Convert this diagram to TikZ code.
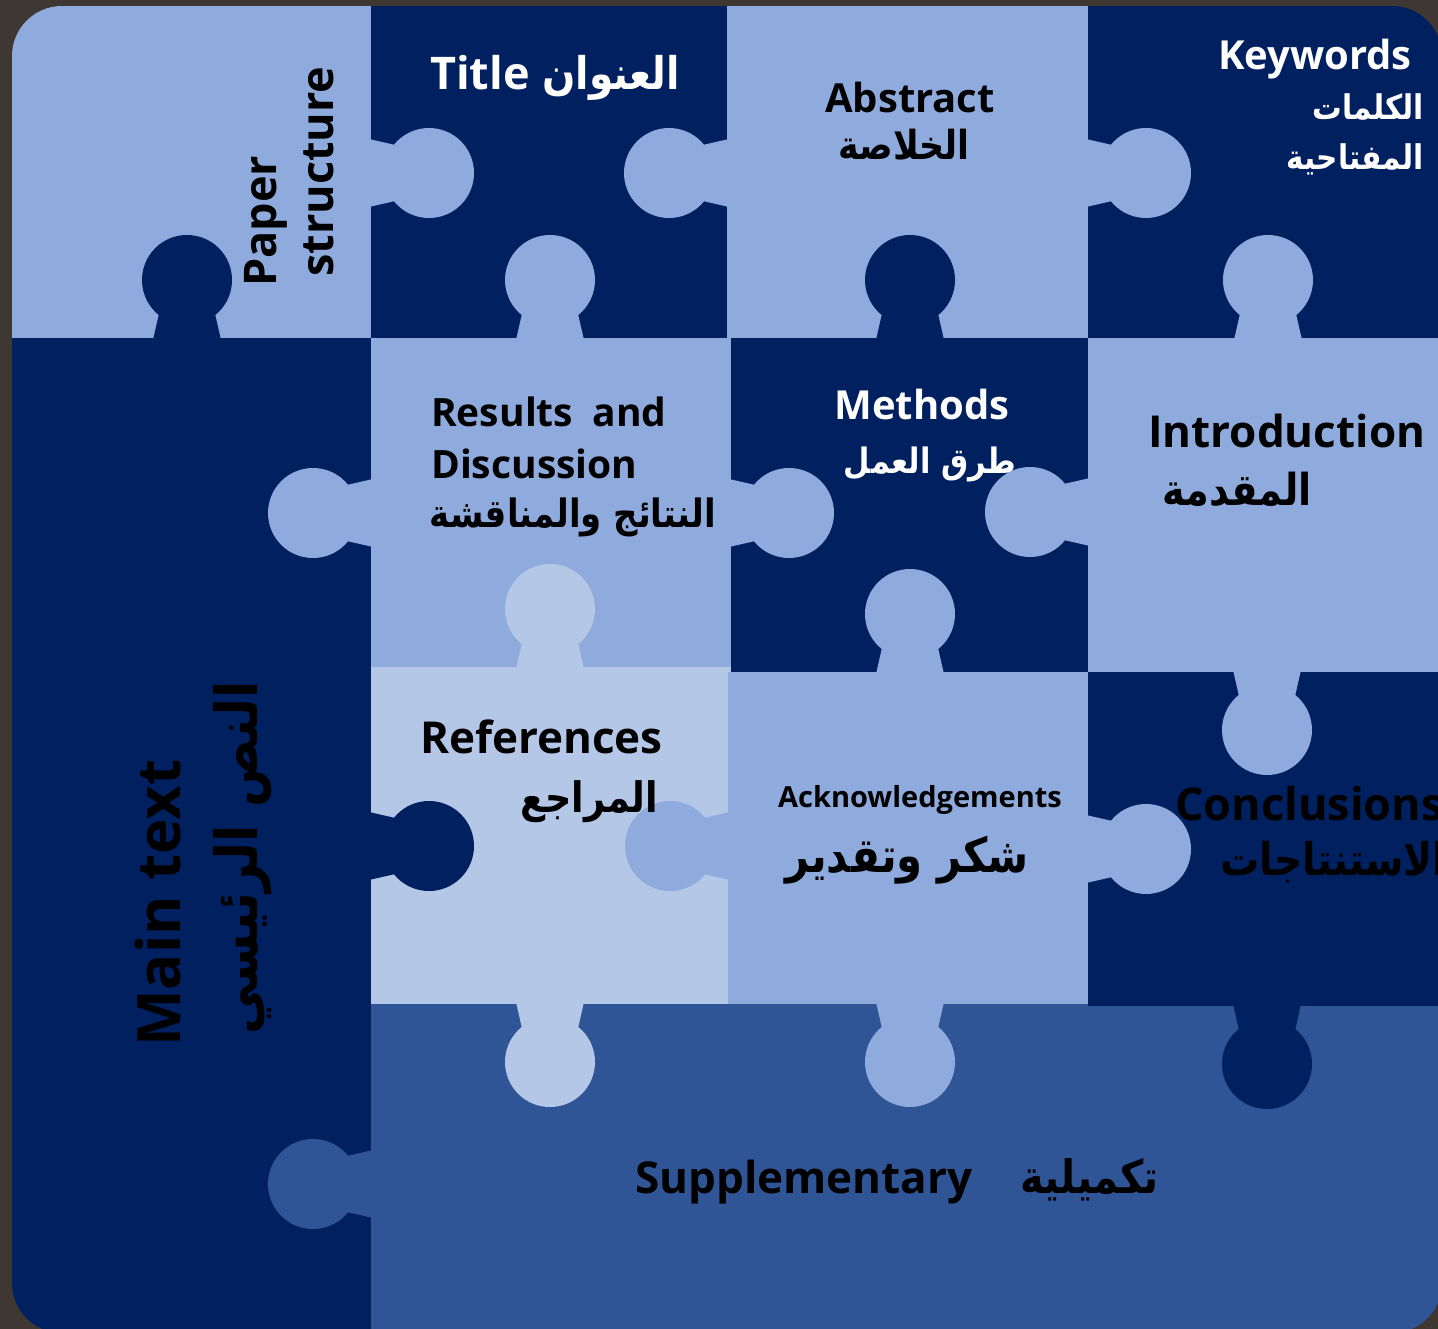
\documentclass[tikz,border=0pt]{standalone}
\usepackage{fontspec}
\setmainfont{Open Sans}
\newfontfamily\arabicfont[Script=Arabic,FakeStretch=0.87]{DejaVu Sans}
\TeXXeTstate=1
\definecolor{navy}{HTML}{002060}
\definecolor{lblue}{HTML}{8FAADC}
\definecolor{llblue}{HTML}{B4C7E7}
\definecolor{mblue}{HTML}{2F5597}
\definecolor{bgdark}{HTML}{3E3732}
\newcommand\ar[1]{{\arabicfont\beginR #1\endR}}
\newcommand\fsz[1]{\fontsize{#1}{#1}\selectfont}
% knob: colour, edge x, edge y, direction angle
\newcommand\knob[4]{%
  \begin{scope}[shift={(#2,#3)},rotate=#4]
    \fill[#1] (-2,-34) -- (40,-24.4) -- (40,24.4) -- (-2,34) -- cycle;
    \fill[#1] (58,0) circle[radius=45pt];
  \end{scope}}
\begin{document}
\begin{tikzpicture}[x=1pt,y=-1pt,
  txt/.style={inner sep=0pt,font=\bfseries}]
\useasboundingbox (0,0) rectangle (1438,1329);
\fill[bgdark] (0,0) rectangle (1438,1329);
\begin{scope}
  \clip[rounded corners=50pt] (12,6) rectangle (1442,1333);
  % pieces
  \fill[lblue]  (12,6) rectangle (371,338);     % paper structure
  \fill[navy]   (371,6) rectangle (727,338);    % title
  \fill[lblue]  (727,6) rectangle (1088,338);   % abstract
  \fill[navy]   (1088,6) rectangle (1442,338);  % keywords
  \fill[navy]   (12,338) rectangle (371,1333);  % main text
  \fill[lblue]  (371,338) rectangle (731,667);  % results
  \fill[navy]   (731,338) rectangle (1088,672); % methods
  \fill[lblue]  (1088,338) rectangle (1442,672);% introduction
  \fill[llblue] (371,667) rectangle (731,1004); % references
  \fill[lblue]  (728,672) rectangle (1088,1004);% acknowledgements
  \fill[mblue]  (371,1004) rectangle (1442,1333);% supplementary
  \fill[navy]   (1088,672) rectangle (1442,1006);% conclusions
  % knobs
  \knob{navy}{187}{338}{90}
  \knob{lblue}{371}{173}{0}
  \knob{lblue}{727}{173}{180}
  \knob{lblue}{550}{338}{90}
  \knob{lblue}{1088}{173}{0}
  \knob{navy}{910}{338}{90}
  \knob{lblue}{1268}{338}{90}
  \knob{lblue}{371}{513}{180}
  \knob{lblue}{731}{513}{0}
  \knob{llblue}{550}{667}{90}
  \knob{lblue}{1088}{512}{180}
  \knob{lblue}{910}{672}{90}
  \knob{lblue}{1267}{672}{-90}
  \knob{navy}{371}{846}{0}
  \knob{lblue}{728}{846}{180}
  \knob{lblue}{1088}{849}{0}
  \knob{llblue}{550}{1004}{-90}
  \knob{lblue}{910}{1004}{-90}
  \knob{navy}{1267}{1006}{-90}
  \knob{mblue}{371}{1184}{180}
\end{scope}
% texts
\node[txt,rotate=90,anchor=base west] (paper) at (276,287) {\fsz{45}Paper};
\node[txt,rotate=90,anchor=base west] (struct) at (333,277) {\fsz{45}structure};
\node[txt,rotate=90,anchor=base west] (main) at (180,1047) {\fsz{60}Main text};
\node[txt,rotate=90,anchor=base] (mainar) at (257,858) {\fsz{58}\ar{النص الرئيسي}};

\node[txt,text=white,anchor=base west] (title) at (430,90) {\fsz{45}Title};
\node[txt,text=white,anchor=base east] (titlear) at (680,90) {\fsz{45}\ar{العنوان}};

\node[txt,anchor=base] (abs) at (910,113) {\fsz{40}Abstract};
\node[txt,anchor=base] (absar) at (904,160) {\fsz{40}\ar{الخلاصة}};

\node[txt,text=white,anchor=base east] (kw) at (1412,70) {\fsz{40}Keywords};
\node[txt,text=white,anchor=base east] (kwar1) at (1424,120) {\fsz{34}\ar{الكلمات}};
\node[txt,text=white,anchor=base east] (kwar2) at (1424,170) {\fsz{34}\ar{المفتاحية}};

\node[txt,anchor=base west] (res1) at (431,427) {\fsz{39}Results\hspace{0.5em}and};
\node[txt,anchor=base west] (res2) at (431,478) {\fsz{39}Discussion};
\node[txt,anchor=base east] (resar) at (716,527) {\fsz{39}\ar{النتائج والمناقشة}};

\node[txt,text=white,anchor=base] (meth) at (922,420) {\fsz{40}Methods};
\node[txt,text=white,anchor=base] (methar) at (930,473) {\fsz{35}\ar{طرق العمل}};

\node[txt,anchor=base west] (intro) at (1148,448) {\fsz{44}Introduction};
\node[txt,anchor=base west] (introar) at (1162,505) {\fsz{44}\ar{المقدمة}};

\node[txt,anchor=base west] (ref) at (420,753) {\fsz{44}References};
\node[txt,anchor=base east] (refar) at (658,812) {\fsz{42}\ar{المراجع}};

\node[txt,anchor=base] (ack) at (920,807) {\fsz{29}Acknowledgements};
\node[txt,anchor=base] (ackar) at (907,872) {\fsz{48}\ar{شكر وتقدير}};

\node[txt,anchor=base west] (conc) at (1175,820) {\fsz{45}Conclusions};
\node[txt,anchor=base west] (concar) at (1220,875) {\fsz{45}\ar{الاستنتاجات}};

\node[txt,anchor=base west] (supp) at (635,1193) {\fsz{44}Supplementary};
\node[txt,anchor=base east] (suppar) at (1159,1193) {\fsz{46}\ar{تكميلية}};
\end{tikzpicture}
\end{document}
